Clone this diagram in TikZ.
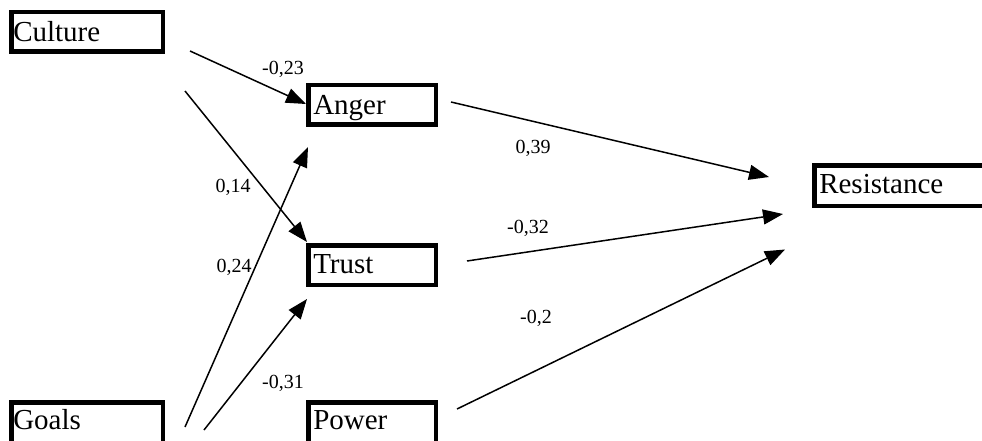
\documentclass[tikz,border=0pt]{standalone}
\usepackage{fontspec}
\setmainfont{Liberation Serif}
\usetikzlibrary{arrows.meta,calc}
\newcommand\boxfont{\fontsize{29}{34}\selectfont}
\newcommand\labfont{\fontsize{20}{24}\selectfont}
\tikzset{
  box/.style={draw, line width=4.5pt, font=\boxfont, align=left, text height=21pt, text depth=3pt, inner ysep=0pt, minimum height=39.5pt, inner xsep=5pt, text width=117.5pt},
  leftbox/.style={inner xsep=2pt, text width=147.5pt},
  conn/.style={line width=1.5pt, -{Triangle[length=20pt,width=15pt]}},
  lab/.style={font=\labfont, inner sep=0pt}
}
\begin{document}
\begin{tikzpicture}[x=1pt,y=-1pt]
\useasboundingbox (0,0) rectangle (982,441);
\clip (0,0) rectangle (982,441);
% boxes
\node[box,leftbox,text depth=1.6pt] (culture) at (87,32) {Culture};
\node[box,leftbox,minimum height=41.5pt,text depth=9pt] (goals) at (87,423) {Goals};
\node[box] (anger) at (372,105) {Anger};
\node[box,text depth=4.4pt] (trust) at (372,265) {Trust};
\node[box,minimum height=41.5pt,text depth=9pt] (power) at (372,423) {Power};
\node[box,text width=165.5pt,minimum height=40.5pt,text depth=5.4pt] (resistance) at (902,185.5) {Resistance};
% connectors
\draw[conn] ($(culture.south east)+(25,-3)$) -- ($(anger.west)+(0,-1)$);
\draw[conn] ($(culture.south east)+(20,37)$) -- ($(trust.north west)+(1,-1)$);
\draw[conn] ($(goals.north east)+(20,27)$) -- ($(anger.south west)+(2,20)$);
\draw[conn] ($(goals.north east)+(39,30)$) -- ($(trust.south west)+(1,12)$);
\draw[conn] ($(anger.east)+(13,-3)$) -- ($(resistance.west)+(-43,-8.5)$);
\draw[conn] ($(trust.east)+(29,-4)$) -- ($(resistance.west)+(-29,28.5)$);
\draw[conn] ($(power.north east)+(19,9)$) -- ($(resistance.west)+(-27,64)$);
% labels
\node[lab] (l1) at (283,69) {-0,23};
\node[lab] (l2) at (533,148) {0,39};
\node[lab] (l3) at (233,187) {0,14};
\node[lab] (l4) at (234,267) {0,24};
\node[lab] (l5) at (528,228) {-0,32};
\node[lab] (l6) at (536,318) {-0,2};
\node[lab] (l7) at (283,383) {-0,31};
\end{tikzpicture}
\end{document}
